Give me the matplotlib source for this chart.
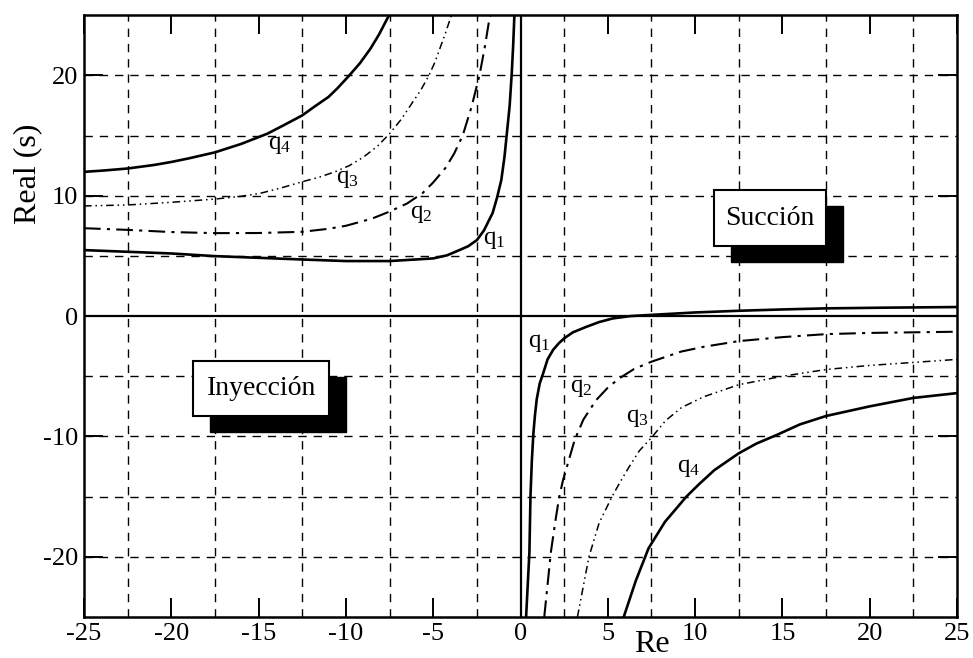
import matplotlib
matplotlib.use("Agg")
import matplotlib.pyplot as plt
from matplotlib.patches import Rectangle

plt.rcParams["font.family"] = ["Liberation Serif", "DejaVu Serif"]
plt.rcParams["mathtext.fontset"] = "custom"
plt.rcParams["mathtext.rm"] = "Liberation Serif"
plt.rcParams["mathtext.it"] = "Liberation Serif"

# curvas: rama Re<0 (arriba) y rama Re>0 (abajo)
q1_up_x = [-25, -20, -17.5, -12.5, -10, -7.5, -5, -4.2, -3.5, -3.0, -2.5, -2.1, -1.6,
           -1.35, -1.1, -0.92, -0.78, -0.62, -0.5, -0.42, -0.35]
q1_up_y = [5.48, 5.2, 4.98, 4.7, 4.57, 4.57, 4.79, 5.05, 5.48, 5.8, 6.31, 7.1, 8.55,
           9.8, 11.3, 13.2, 15.2, 17.5, 20.2, 22.5, 25]
q2_up_x = [-25, -22.5, -20, -17.5, -15, -12.5, -11, -10, -8.5, -7.5, -6.5, -5.62, -5.0,
           -4.3, -3.8, -3.31, -2.8, -2.35, -2.05, -1.77, -1.7]
q2_up_y = [7.3, 7.16, 6.98, 6.89, 6.9, 7.0, 7.25, 7.5, 8.1, 8.68, 9.35, 10.2, 11.1,
           12.3, 13.5, 15.0, 17.4, 20.0, 22.3, 24.8, 25]
q3_up_x = [-25, -22.5, -20, -17.5, -16, -14.9, -13.7, -12.5, -11.5, -10.6, -9.8, -9,
           -8.2, -7.5, -6.8, -6.3, -5.7, -5.24, -4.9, -4.6, -4.3, -4.07, -3.95]
q3_up_y = [9.15, 9.23, 9.45, 9.72, 9.95, 10.2, 10.65, 11.16, 11.55, 12.0, 12.5, 13.2,
           14.1, 15.15, 16.4, 17.5, 18.8, 20.0, 21.1, 22.3, 23.5, 24.5, 25]
q4_up_x = [-25, -23.8, -22.5, -21, -20, -19, -17.5, -16, -14.5, -13.5, -12.5, -11.8,
           -11, -10.5, -9.86, -9.2, -8.6, -8.1, -7.6, -7.5]
q4_up_y = [11.98, 12.1, 12.26, 12.55, 12.8, 13.1, 13.6, 14.3, 15.15, 15.9, 16.67, 17.4,
           18.2, 18.9, 19.9, 21.0, 22.2, 23.4, 24.8, 25]

q1_dn_x = [0.32, 0.51, 0.57, 0.65, 0.74, 0.83, 0.93, 1.1, 1.31, 1.55, 1.87, 2.2, 2.5,
           3.0, 3.76, 4.5, 5.27, 6.3, 7.5, 10, 12.5, 15, 17.5, 21, 25]
q1_dn_y = [-25, -19.6, -15, -12.0, -9.7, -8.2, -6.9, -5.6, -4.7, -3.6, -2.8, -2.25,
           -1.85, -1.35, -0.9, -0.5, -0.2, 0.0, 0.1, 0.3, 0.44, 0.55, 0.64, 0.7, 0.75]
q2_dn_x = [1.36, 1.74, 2.0, 2.22, 2.44, 2.8, 3.1, 3.6, 4.33, 5.0, 5.65, 6.5, 7.5, 9.2,
           10.5, 12.5, 15, 17.5, 20, 25]
q2_dn_y = [-25, -19.6, -17.0, -15, -13.6, -11.8, -10.3, -8.6, -6.98, -5.95, -5.18,
           -4.4, -3.79, -2.95, -2.55, -2.08, -1.75, -1.5, -1.4, -1.3]
q3_dn_x = [3.26, 3.92, 4.5, 5.24, 5.7, 6.19, 6.8, 7.5, 8.3, 9.22, 10.5, 12.5, 15,
           17.5, 20, 25]
q3_dn_y = [-25, -20, -17.2, -15, -13.8, -12.6, -11.2, -10.1, -8.7, -7.6, -6.7, -5.7,
           -5.0, -4.44, -4.1, -3.6]
q4_dn_x = [5.91, 6.6, 7.33, 8.27, 9.5, 10.2, 11.1, 12.5, 13.5, 14.7, 16, 17.5, 20,
           22.5, 25]
q4_dn_y = [-25, -22, -19.3, -17.1, -15, -14, -12.8, -11.4, -10.6, -9.86, -9.0, -8.3,
           -7.5, -6.8, -6.4]

x_ticks = [-25, -20, -15, -10, -5, 0, 5, 10, 15, 20, 25]
y_ticks = [-20, -10, 0, 10, 20]
x_grid = [-22.5, -17.5, -12.5, -7.5, -2.5, 2.5, 7.5, 12.5, 17.5, 22.5]
y_grid = [-20, -15, -10, -5, 5, 10, 15, 20]

fig = plt.figure(figsize=(9.73, 6.58), dpi=100)
ax = fig.add_axes([0.0863, 0.0623, 0.8973, 0.9147])

# rejilla punteada
for gx in x_grid:
    ax.axvline(gx, color="black", lw=1.0, ls=(0, (6, 5)), zorder=1)
for gy in y_grid:
    ax.axhline(gy, color="black", lw=1.0, ls=(0, (6, 5)), zorder=1)
ax.axhline(0, color="black", lw=1.6, zorder=2)
ax.axvline(0, color="black", lw=1.6, zorder=2)

solid = dict(color="black", lw=1.9, zorder=3)
dashdot = dict(color="black", lw=1.5, ls=(0, (8, 3, 1.5, 3)), zorder=3)
dashdotdot = dict(color="black", lw=1.1, ls=(0, (5, 2.5, 1, 2.5, 1, 2.5)), zorder=3)

ax.plot(q1_up_x, q1_up_y, **solid)
ax.plot(q2_up_x, q2_up_y, **dashdot)
ax.plot(q3_up_x, q3_up_y, **dashdotdot)
ax.plot(q4_up_x, q4_up_y, **solid)
ax.plot(q1_dn_x, q1_dn_y, **solid)
ax.plot(q2_dn_x, q2_dn_y, **dashdot)
ax.plot(q3_dn_x, q3_dn_y, **dashdotdot)
ax.plot(q4_dn_x, q4_dn_y, **solid)

# etiquetas de las curvas
lab = dict(fontsize=18, ha="center", va="center", zorder=5)
ax.text(-13.8, 14.2, r"$\mathrm{q}_4$", **lab)
ax.text(-9.9, 11.4, r"$\mathrm{q}_3$", **lab)
ax.text(-5.7, 8.5, r"$\mathrm{q}_2$", **lab)
ax.text(-1.5, 6.3, r"$\mathrm{q}_1$", **lab)
ax.text(1.1, -2.2, r"$\mathrm{q}_1$", **lab)
ax.text(3.5, -6.0, r"$\mathrm{q}_2$", **lab)
ax.text(6.7, -8.5, r"$\mathrm{q}_3$", **lab)
ax.text(9.6, -12.6, r"$\mathrm{q}_4$", **lab)

# cajas con sombra
def caja(x0, y0, w, h, texto):
    ax.add_patch(Rectangle((x0 + 0.95, y0 - 1.3), w, h, facecolor="black",
                           edgecolor="black", zorder=6))
    ax.add_patch(Rectangle((x0, y0), w, h, facecolor="white",
                           edgecolor="black", lw=1.5, zorder=7))
    ax.text(x0 + w / 2, y0 + h / 2, texto, fontsize=20, ha="center",
            va="center", zorder=8)

caja(11.1, 5.8, 6.4, 4.65, "Succión")
caja(-18.75, -8.29, 7.8, 4.56, "Inyección")

ax.set_xlim(-25, 25)
ax.set_ylim(-25, 25)
ax.set_xticks(x_ticks)
ax.set_yticks(y_ticks)
ax.set_xticklabels([str(v) for v in x_ticks])
ax.set_yticklabels([str(v) for v in y_ticks])
ax.tick_params(direction="in", length=14, width=1.4, labelsize=19,
               top=True, right=True, pad=4)
for s in ax.spines.values():
    s.set_linewidth(1.8)

fig.text(652 / 973, 1 - 645 / 658, "Re", fontsize=23, ha="center", va="center")
fig.text(28 / 973, 1 - 174 / 658, "Real (s)", fontsize=23, ha="center",
         va="center", rotation=90)

fig.savefig("out.png", dpi=100)
